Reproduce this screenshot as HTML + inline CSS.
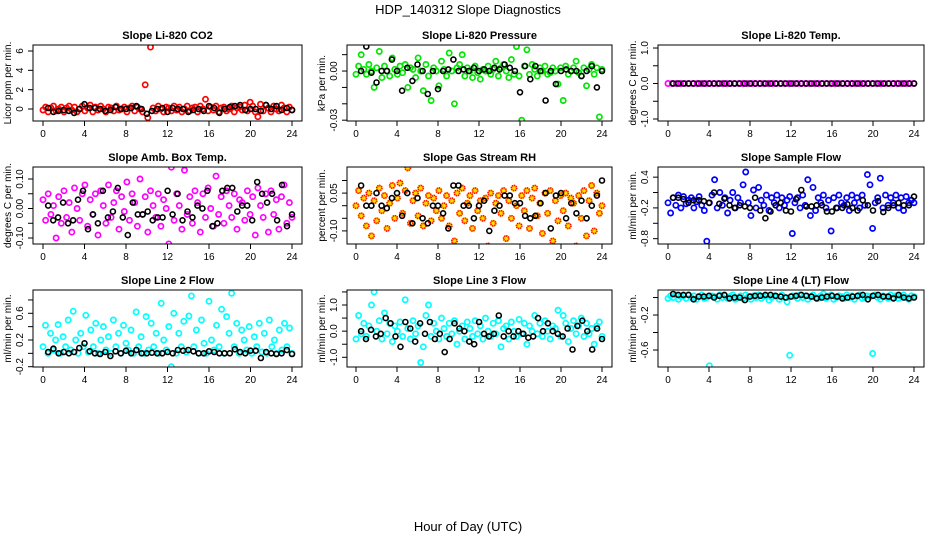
<!DOCTYPE html>
<html><head><meta charset="utf-8">
<style>
html,body{margin:0;padding:0;background:#fff;}
svg{display:block;font-family:"Liberation Sans",sans-serif;}
</style></head>
<body>
<svg id="chart" width="936" height="540" viewBox="0 0 936 540" xmlns="http://www.w3.org/2000/svg">
<text x="468" y="14" text-anchor="middle" font-size="13">HDP_140312  Slope Diagnostics</text>
<text x="468" y="531" text-anchor="middle" font-size="13">Hour of Day (UTC)</text>
</svg>
<script>
const xTicks=[0,4,8,12,16,20,24];
const titles=["Slope Li-820 CO2","Slope Li-820 Pressure","Slope Li-820 Temp.","Slope Amb. Box Temp.","Slope Gas Stream RH","Slope Sample Flow","Slope Line 2 Flow","Slope Line 3 Flow","Slope Line 4 (LT) Flow"];
const yTitles=["Licor ppm per min.","kPa per min.","degrees C per min.","degrees C per min.","percent per min.","ml/min per min.","ml/min per min.","ml/min per min.","ml/min per min."];
const yTickVals=[[0,2,4,6],[0.01,0,-0.01,-0.02,-0.03],[1,0.5,0,-0.5,-1],[0.1,0.05,0,-0.05,-0.1],[0.1,0.05,0,-0.05,-0.1],[0.4,0.1,-0.2,-0.5,-0.8],[0.8,0.6,0.4,0.2,0,-0.2],[1.5,1,0.5,0,-0.5,-1],[0,-0.2,-0.4,-0.6]];
const yTickLabels=[["0","2","4","6"],["","0.00","","","-0.03"],["1.0","","0.0","","-1.0"],["0.10","","0.00","","-0.10"],["","0.05","","","-0.10"],["0.4","","-0.2","","-0.8"],["","0.6","","0.2","","-0.2"],["","1.0","","0.0","","-1.0"],["","-0.2","","-0.6"]];
const yDomains=[[6.62,-1.24],[0.0159,-0.0305],[1.085,-1.056],[0.1407,-0.1203],[0.1536,-0.152],[0.598,-0.904],[0.949,-0.2045],[1.574,-1.371],[0.086,-0.794]];
const colors=["#ff0000","#00e600","#ff00ff","#ff00ff","#ffb000","#0000ff","#00ffff","#00ffff","#00ffff"];

const co2Color=[-0.1,0.2,-0.3,0.1,0.3,-0.2,0.0,0.2,-0.3,0.1,0.3,-0.1,0.2,-0.3,0.0,0.3,-0.2,0.1,0.4,-0.3,0.2,-0.1,0.3,0.0,-0.3,0.2,0.1,-0.2,0.3,-0.1,0.0,0.2,-0.3,0.1,0.3,-0.2,0.2,0.0,-0.3,2.5,-0.9,6.4,0.1,-0.2,0.3,0.0,-0.3,0.2,0.1,-0.2,0.3,-0.1,0.2,-0.3,0.0,0.3,-0.2,0.1,0.2,-0.3,0.3,0.0,1.0,-0.2,0.2,-0.1,0.3,-0.3,0.1,0.2,-0.2,0.0,0.3,-0.3,0.1,0.2,-0.1,0.4,-0.2,0.7,0.3,-0.3,-0.8,0.5,-0.2,0.4,0.1,-0.3,0.3,0.0,-0.2,0.4,0.1,-0.3,0.2,-0.1];
const co2Black=[0.1,-0.3,-0.2,-0.1,-0.2,-0.4,0.0,0.5,0.1,0.1,0.0,-0.2,-0.1,0.2,0.0,0.0,0.1,0.3,0.0,-0.5,-0.2,0.0,0.1,-0.3,0.1,0.0,0.0,-0.3,-0.1,0.0,-0.2,0.3,0.1,-0.4,0.0,0.2,0.3,0.4,-0.1,0.0,0.0,-0.2,0.4,0.0,0.3,-0.1,0.1,-0.1];
const presColor=[-0.002,0.003,0.010,0.001,-0.002,0.004,0.000,-0.010,0.002,0.012,-0.004,0.003,0.000,-0.003,0.008,0.001,-0.002,0.003,-0.001,0.004,-0.010,0.002,0.001,-0.004,0.008,0.000,-0.012,0.004,-0.003,-0.018,0.002,0.000,-0.009,0.006,0.001,-0.003,0.011,0.000,-0.020,0.002,0.004,0.010,-0.003,0.002,0.000,-0.004,0.003,-0.001,-0.005,0.001,0.000,0.003,-0.002,0.001,0.006,-0.003,0.002,0.004,0.000,-0.004,0.007,-0.002,0.015,-0.003,-0.030,0.003,0.013,-0.002,0.004,0.001,-0.003,0.002,0.000,0.003,-0.002,-0.001,0.002,0.000,-0.008,0.002,-0.018,0.003,-0.002,0.000,0.002,0.006,-0.001,-0.003,0.002,-0.009,0.001,0.004,-0.002,0.002,-0.028,0.001];
const presBlack=[0.000,0.015,-0.001,-0.007,0.000,0.000,0.007,0.000,-0.012,0.002,-0.006,0.004,0.000,-0.014,0.000,-0.011,0.000,0.001,0.007,0.000,0.001,0.000,0.002,0.000,0.001,0.000,0.002,0.001,0.004,0.002,0.000,-0.013,0.003,-0.005,0.003,0.000,-0.018,0.000,-0.008,0.000,0.001,0.000,0.000,-0.003,0.000,0.003,-0.010,0.000];
const tempColor=[0,0,0,0,0,0,0,0,0,0,0,0,0,0,0,0,0,0,0,0,0,0,0,0,0,0,0,0,0,0,0,0,0,0,0,0,0,0,0,0,0,0,0,0,0,0,0,0,0,0,0,0,0,0,0,0,0,0,0,0];
const tempBlack=[0,0,0,0,0,0,0,0,0,0,0,0,0,0,0,0,0,0,0,0,0,0,0,0,0,0,0,0,0,0,0,0,0,0,0,0,0,0,0,0,0,0,0,0,0,0,0,0];
const boxColor=[0.03,-0.04,0.05,-0.02,0.01,-0.10,0.04,-0.05,0.06,-0.03,0.02,-0.08,0.07,0.00,-0.04,0.05,0.08,-0.06,0.03,-0.02,0.05,-0.09,0.06,0.01,-0.05,0.08,-0.03,0.02,0.06,-0.07,0.04,-0.01,0.09,-0.04,0.05,0.02,-0.06,0.10,-0.02,0.04,-0.08,0.06,0.01,-0.03,0.05,-0.06,0.03,0.00,-0.12,0.14,-0.04,0.05,0.01,-0.07,0.13,-0.02,0.04,-0.05,0.06,0.02,-0.08,0.05,-0.03,0.07,0.00,-0.06,0.11,-0.02,0.04,-0.05,0.06,0.01,-0.03,0.05,-0.07,0.03,0.02,-0.04,0.06,-0.02,0.04,-0.09,0.07,0.01,-0.03,0.05,-0.08,0.06,-0.02,0.03,-0.07,0.04,0.08,-0.05,0.02,-0.03];
const boxBlack=[0.01,-0.04,-0.03,0.02,-0.05,-0.04,0.03,0.06,-0.07,-0.02,-0.05,0.06,-0.03,-0.01,0.07,-0.03,-0.09,0.02,-0.02,-0.02,-0.01,-0.04,-0.03,-0.03,0.06,-0.02,0.05,-0.04,-0.01,-0.03,0.01,0.00,0.06,-0.06,-0.05,0.06,0.07,0.07,-0.01,0.01,0.01,-0.04,0.09,0.05,0.02,0.05,-0.04,0.08,-0.06,-0.02];
const rhColor=[0.00,0.06,-0.04,0.03,-0.08,0.05,-0.12,0.02,-0.06,0.07,-0.02,0.04,-0.09,0.01,0.08,-0.05,0.03,0.09,-0.03,0.06,0.15,-0.07,0.02,0.05,-0.04,0.07,-0.08,0.01,0.04,-0.06,0.03,-0.02,0.06,-0.05,0.00,0.04,-0.08,0.02,-0.14,0.05,-0.03,0.07,-0.06,0.01,0.04,-0.09,0.06,-0.02,0.02,-0.05,0.03,-0.16,0.05,-0.07,0.01,0.04,-0.03,0.06,-0.13,0.02,-0.05,0.07,0.00,-0.08,0.04,-0.02,0.06,-0.09,0.03,0.07,-0.04,0.01,-0.11,0.05,-0.03,0.06,-0.14,0.02,-0.06,0.04,-0.02,0.05,-0.08,0.03,0.01,-0.16,0.04,-0.05,0.06,-0.12,0.02,0.08,-0.10,0.05,-0.03,0.00];
const rhBlack=[0.08,0.00,0.00,0.05,0.00,-0.01,0.03,0.05,-0.04,0.05,-0.07,0.03,-0.05,-0.07,0.00,0.00,-0.03,-0.09,0.08,0.08,0.00,0.00,-0.05,0.00,0.02,-0.10,-0.02,0.00,0.04,0.04,0.01,0.01,-0.04,-0.05,-0.04,0.01,0.05,-0.09,0.04,0.05,-0.05,0.01,-0.03,0.02,-0.05,0.00,0.04,0.10];
const sampColor=[-0.1,-0.3,0.0,-0.15,0.05,-0.2,0.02,-0.12,-0.05,0.0,-0.2,-0.08,0.02,-0.15,-0.25,-0.85,-0.1,0.05,0.35,-0.2,0.1,-0.15,0.0,-0.3,-0.05,0.1,-0.2,0.0,-0.1,0.25,0.5,-0.1,-0.35,0.15,-0.2,0.2,-0.05,-0.15,0.05,-0.25,0.0,-0.1,0.05,-0.2,0.0,-0.15,-0.05,0.02,-0.7,-0.1,0.0,-0.2,0.05,-0.15,0.35,-0.35,0.2,-0.25,0.0,-0.1,0.05,-0.2,-0.05,-0.65,0.0,-0.2,0.05,-0.1,-0.15,0.0,-0.25,0.05,-0.1,0.0,-0.2,0.05,-0.15,0.45,0.25,-0.6,-0.1,0.0,0.38,-0.2,0.05,-0.15,0.0,-0.1,0.05,-0.2,0.0,-0.25,0.02,-0.1,-0.05,-0.1];
const sampBlack=[0.0,0.0,-0.03,-0.1,-0.05,-0.05,-0.07,-0.1,0.1,-0.12,-0.02,-0.15,-0.2,-0.15,-0.17,-0.2,0.0,-0.25,-0.4,-0.27,-0.15,-0.1,-0.25,-0.27,-0.03,0.15,-0.17,-0.17,-0.15,-0.15,-0.27,-0.27,-0.2,-0.2,-0.13,-0.2,-0.25,-0.05,-0.15,-0.25,-0.07,-0.28,-0.2,-0.15,-0.1,-0.15,-0.15,0.02];
const line2Color=[0.1,0.42,0.0,0.3,0.05,0.2,0.43,0.0,0.25,0.1,0.5,0.05,0.63,0.2,0.0,0.3,0.1,0.57,0.02,0.35,0.1,0.45,0.0,0.2,0.4,0.05,0.25,0.0,0.5,0.1,0.3,0.0,0.42,0.15,0.05,0.35,0.0,0.62,0.1,0.25,0.0,0.55,0.05,0.45,0.1,0.3,0.0,0.75,0.2,0.05,0.4,-0.2,0.6,0.0,0.3,0.1,0.48,0.02,0.56,0.86,0.1,0.35,0.0,0.5,0.15,0.0,0.78,0.2,0.05,0.42,0.1,0.66,0.0,0.55,0.3,0.9,0.1,0.45,0.0,0.35,0.2,0.05,0.4,0.0,0.25,0.1,0.45,0.02,0.3,0.0,0.5,0.1,0.2,0.0,0.35,0.05,0.45,0.1,0.38,0.0];
const line2Black=[0.02,0.07,0.0,0.02,0.0,0.02,0.08,0.15,0.03,0.0,-0.01,0.02,-0.04,0.03,0.0,0.04,0.0,0.05,0.0,0.0,0.01,0.0,0.0,0.02,0.0,0.05,0.04,0.05,0.03,0.0,0.0,0.03,0.02,0.0,0.0,0.0,0.06,0.02,0.0,0.04,0.04,-0.07,0.02,0.0,-0.01,0.0,0.05,-0.01];
const line3Color=[-0.3,0.6,-0.1,0.3,-0.2,0.2,1.0,1.5,0.0,0.4,-0.3,0.7,-0.1,0.3,-0.4,0.2,0.0,0.35,-0.2,1.2,0.1,-0.3,0.4,-0.1,0.2,-1.2,-0.6,0.6,1.0,-0.2,0.3,0.0,-0.3,0.5,0.1,-0.2,0.3,-0.1,0.4,-0.5,0.0,0.2,-0.3,0.35,0.1,-0.2,0.4,-0.1,0.2,-0.3,0.5,0.0,-0.2,0.3,-0.1,0.4,-0.6,0.1,0.2,-0.3,0.35,0.0,-0.2,0.45,-0.1,0.3,-0.5,0.2,0.0,0.6,-0.1,0.3,-0.2,0.4,0.0,-0.3,0.2,0.1,0.8,-0.2,0.6,0.3,-0.4,0.1,0.4,-0.1,0.2,0.5,-0.2,0.3,-0.1,0.1,-0.5,0.2,0.35,-0.2];
const line3Black=[0.0,-0.3,0.05,-0.2,-0.1,0.5,0.3,-0.2,-0.6,0.35,0.1,-0.4,0.3,-0.1,0.35,-0.3,-0.1,-0.8,-0.3,0.3,0.1,0.0,-0.4,-0.5,0.35,-0.1,-0.2,-0.1,0.6,-0.2,0.0,-0.2,0.0,-0.1,-0.25,-0.2,0.5,0.0,0.3,0.0,-0.1,-0.2,0.1,-0.7,0.2,0.4,0.0,-0.7,0.1,-0.3];
const line4Color=[-0.01,0.02,0.0,0.03,-0.02,0.01,0.02,-0.01,0.03,0.0,0.02,-0.02,0.01,0.03,-0.01,0.0,-0.78,0.02,0.01,-0.02,0.03,0.0,0.02,-0.01,0.01,0.03,-0.02,0.0,0.02,-0.01,0.03,0.01,-0.02,0.02,0.0,0.03,-0.01,0.01,0.02,-0.03,0.0,0.02,0.01,-0.02,0.03,0.0,-0.05,-0.66,0.02,0.01,-0.01,0.03,0.0,0.02,-0.02,0.01,0.03,0.0,-0.01,0.02,0.04,-0.01,0.01,0.03,-0.02,0.0,0.02,0.01,-0.01,0.03,0.0,0.02,-0.02,0.01,0.03,-0.01,0.0,0.02,0.01,-0.64,0.03,0.0,-0.02,0.02,0.01,-0.01,0.03,0.0,0.02,-0.01,0.01,0.03,0.0,-0.02,0.02,0.01];
const line4Black=[0.04,0.03,0.03,0.03,-0.02,0.01,0.01,0.02,0.0,0.02,0.03,-0.01,0.0,0.0,-0.03,0.01,0.02,0.02,0.03,0.03,0.02,0.01,0.0,0.01,0.02,0.03,0.02,0.01,-0.01,0.0,0.01,0.02,0.01,-0.01,0.0,0.01,0.02,0.03,-0.02,0.02,0.03,0.01,0.01,-0.01,0.03,0.0,-0.01,0.0];

const colorSeries=[co2Color,presColor,tempColor,boxColor,rhColor,sampColor,line2Color,line3Color,line4Color];
const blackSeries=[co2Black,presBlack,tempBlack,boxBlack,rhBlack,sampBlack,line2Black,line3Black,line4Black];

const NS="http://www.w3.org/2000/svg";
const svg=document.getElementById("chart");
const colBox=[[33,302,43,292],[347,612,356,602],[658,924,668,914]];
const rowBox=[[45,121],[167,244],[290,367]];
function mk(tag,attrs,parent){const e=document.createElementNS(NS,tag);for(const k in attrs)e.setAttribute(k,attrs[k]);(parent||svg).appendChild(e);return e;}

for(let p=0;p<9;p++){
  const c=colBox[p%3], r=rowBox[Math.floor(p/3)];
  const [L,R,X0,X24]=c, [T,B]=r;
  const dom=yDomains[p];
  const xS=h=>X0+(X24-X0)*h/24;
  const yS=v=>T+(B-T)*(dom[0]-v)/(dom[0]-dom[1]);
  const g=mk("g",{});
  
  
  const t=mk("text",{x:(L+R)/2,y:T-6,"text-anchor":"middle","font-size":"11","font-weight":"bold"},g);
  t.textContent=titles[p];
  
  
  const yt=mk("text",{transform:`translate(${L-22},${(T+B)/2}) rotate(-90)`,"text-anchor":"middle","font-size":"10"},g);
  yt.textContent=yTitles[p];
  
  
  const cid="clip"+p;
  const cp=mk("clipPath",{id:cid},g);
  mk("rect",{x:L,y:T,width:R-L,height:B-T},cp);
  const pts=mk("g",{"clip-path":`url(#${cid})`},g);
  const cs=colorSeries[p];
  for(let i=0;i<cs.length;i++){
    const cx=xS(i*24/(cs.length-1)), cy=yS(cs[i]);
    const ci=mk("circle",{cx:cx.toFixed(1),cy:cy.toFixed(1),r:2.6,fill:p==4?"#ffe000":"none",stroke:colors[p],"stroke-width":1.7},pts);
    
    
    if(p==4){mk("circle",{cx:cx.toFixed(1),cy:cy.toFixed(1),r:2.6,fill:"none",stroke:"#ff0000","stroke-width":1.7,"stroke-dasharray":"1 1"},pts);}
  }
  const bs=blackSeries[p];
  for(let i=0;i<bs.length;i++){
    const cx=xS(0.5+i*23.5/(bs.length-1)), cy=yS(bs[i]);
    const ci=mk("circle",{cx:cx.toFixed(1),cy:cy.toFixed(1),r:2.5,fill:"none",stroke:"#000","stroke-width":1.6},pts);
    
    
  }
  const box=mk("rect",{x:L,y:T,width:R-L,height:B-T,fill:"none",stroke:"#000","stroke-width":1},g);
  
  
  for(const h of xTicks){
    const x=xS(h);
    mk("line",{x1:x,y1:B,x2:x,y2:B+5,stroke:"#000"},g);
    const tl=mk("text",{x:x,y:B+16,"text-anchor":"middle","font-size":"10"},g);
    tl.textContent=h;
    
    
  }
  const tv=yTickVals[p], tlb=yTickLabels[p];
  for(let k=0;k<tv.length;k++){
    const y=yS(tv[k]);
    if(y<T-1||y>B+1)continue;
    mk("line",{x1:L-5,y1:y,x2:L,y2:y,stroke:"#000"},g);
    if(tlb[k]){
      const yl=mk("text",{transform:`translate(${L-10},${y}) rotate(-90)`,"text-anchor":"middle","font-size":"10"},g);
      yl.textContent=tlb[k];
      
      
    }
  }
}
</script>
</body></html>
